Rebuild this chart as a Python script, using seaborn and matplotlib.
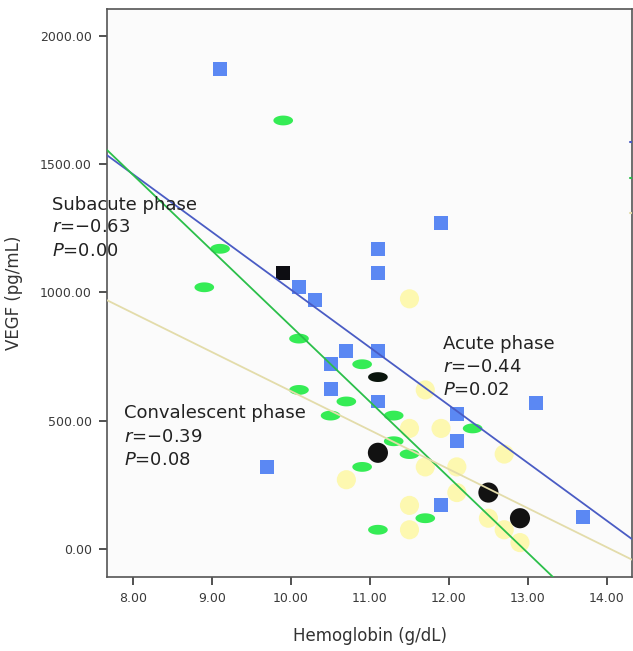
import numpy as np
import pandas as pd
import seaborn as sns
import matplotlib.pyplot as plt
from matplotlib.path import Path

sns.set_style("white")
plt.rcParams['font.family'] = ['DejaVu Sans']

# acute phase (blue squares)
acute_hb = [9.1, 10.1, 10.3, 10.7, 10.5, 10.5, 11.1, 11.1, 11.1, 11.1,
            11.9, 12.1, 12.1, 13.1, 11.9, 13.7, 9.7]
acute_vegf = [1870, 1020, 970, 770, 720, 625, 770, 1075, 1170, 575,
              1270, 525, 420, 570, 170, 125, 320]

# subacute phase (green ellipses)
subacute_hb = [9.9, 9.1, 8.9, 10.1, 10.1, 10.9, 10.7, 10.5, 11.3, 11.3,
               11.5, 10.9, 11.1, 11.7, 12.3]
subacute_vegf = [1670, 1170, 1020, 820, 620, 720, 575, 520, 520, 420,
                 370, 320, 75, 120, 470]

# convalescent phase (pale yellow circles)
conv_hb = [11.5, 11.7, 11.5, 11.9, 12.7, 11.7, 12.1, 12.1, 11.5, 11.5,
           12.5, 12.7, 12.9, 10.7]
conv_vegf = [975, 620, 470, 470, 370, 320, 320, 220, 170, 75,
             120, 75, 25, 270]

# highlighted cases (black)
hl_square_hb, hl_square_vegf = [9.9], [1075]
hl_ellipse_hb, hl_ellipse_vegf = [11.1], [670]
hl_circle_hb, hl_circle_vegf = [11.1, 12.5, 12.9], [375, 220, 120]

# fit lines: intercept, slope
fit_names = ["Acute", "Subacute", "Convalescent"]
fit_intercept = [3259, 3813, 2135]
fit_slope = [-224.9, -294.5, -152.0]
fit_colors = ["#4a5cc4", "#2bbf4a", "#e3dcaa"]
# little cut-off line labels at the right edge
fit_label_y = [1586, 1446, 1310]

x_ticks = [8, 9, 10, 11, 12, 13, 14]
y_ticks = [0, 500, 1000, 1500, 2000]
x_lim = (7.667, 14.32)
y_lim = (-109, 2104)

# ellipse marker
t = np.linspace(0, 2 * np.pi, 60)
ellipse = Path(np.column_stack([np.cos(t), 0.5 * np.sin(t)]), closed=True)

fig = plt.figure(figsize=(6.33, 6.51), dpi=100)
ax = fig.add_axes([0.169, 0.1137, 0.8295, 0.8723])
ax.set_facecolor("#fbfbfb")

sns.scatterplot(x=conv_hb, y=conv_vegf, marker="o", s=190, color="#fdf8b0",
                edgecolor="none", ax=ax, zorder=2)
sns.scatterplot(x=subacute_hb, y=subacute_vegf, marker=ellipse, s=200, color="#35ec55",
                edgecolor="none", ax=ax, zorder=3)
sns.scatterplot(x=acute_hb, y=acute_vegf, marker="s", s=100, color="#5b88f3",
                edgecolor="none", ax=ax, zorder=4)
sns.scatterplot(x=hl_square_hb, y=hl_square_vegf, marker="s", s=100, color="#0d0d12",
                edgecolor="none", ax=ax, zorder=5)
sns.scatterplot(x=hl_ellipse_hb, y=hl_ellipse_vegf, marker=ellipse, s=200, color="#0a140c",
                edgecolor="none", ax=ax, zorder=5)
sns.scatterplot(x=hl_circle_hb, y=hl_circle_vegf, marker="o", s=210, color="#121212",
                edgecolor="none", ax=ax, zorder=5)

for name, a, b, c, ly in zip(fit_names, fit_intercept, fit_slope, fit_colors, fit_label_y):
    xs = np.array(x_lim)
    line_df = pd.DataFrame({"x": xs, "y": a + b * xs})
    sns.lineplot(data=line_df, x="x", y="y", color=c, lw=1.3, ax=ax, zorder=6)
    ax.plot([x_lim[1] - 0.03, x_lim[1]], [ly, ly], color=c, lw=1.5, zorder=6)

ax.set_xlim(*x_lim)
ax.set_ylim(*y_lim)
ax.set_xticks(x_ticks)
ax.set_yticks(y_ticks)
ax.set_xticklabels([f"{v:.2f}" for v in x_ticks], fontsize=9, color="#3a3a3a")
ax.set_yticklabels([f"{v:.2f}" for v in y_ticks], fontsize=9, color="#3a3a3a")
ax.tick_params(axis="both", direction="out", length=6, width=1.2, color="#333333",
               bottom=True, left=True, pad=5)
for sp in ax.spines.values():
    sp.set_color("#555555")
    sp.set_linewidth(1.2)

ax.set_xlabel("Hemoglobin (g/dL)", fontsize=12, color="#333333", labelpad=16)
ax.set_ylabel("VEGF (pg/mL)", fontsize=12, color="#333333", labelpad=12)

txt = dict(fontsize=13, color="#222222", va="center", ha="left", clip_on=False, zorder=7)
ax.text(6.97, 1341, "Subacute phase", **txt)
ax.text(6.97, 1253, r"$\it{r}$=−0.63", **txt)
ax.text(6.97, 1162, r"$\it{P}$=0.00", **txt)
ax.text(11.93, 799, "Acute phase", **txt)
ax.text(11.93, 710, r"$\it{r}$=−0.44", **txt)
ax.text(11.93, 620, r"$\it{P}$=0.02", **txt)
ax.text(7.88, 530, "Convalescent phase", **txt)
ax.text(7.88, 437, r"$\it{r}$=−0.39", **txt)
ax.text(7.88, 345, r"$\it{P}$=0.08", **txt)

fig.savefig("out.png", dpi=100)
